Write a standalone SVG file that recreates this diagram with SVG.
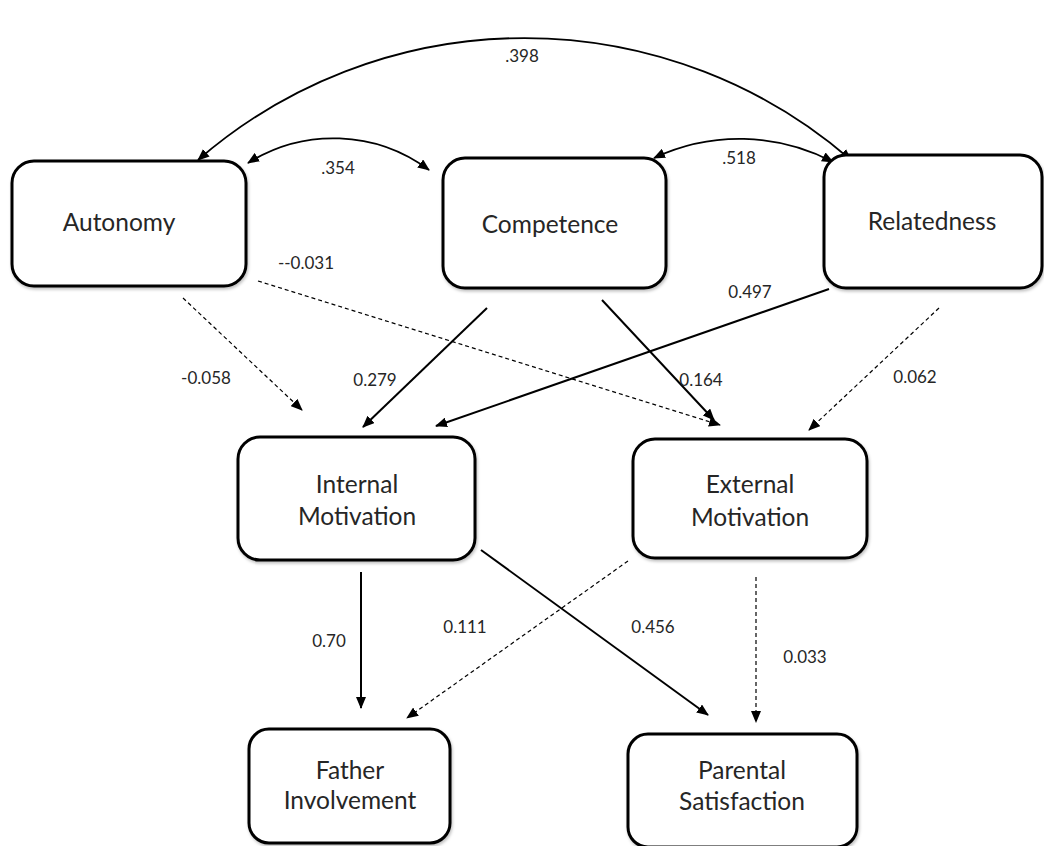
<svg xmlns="http://www.w3.org/2000/svg" width="1044" height="846" viewBox="0 0 1044 846">
  <style>
    .box { fill: #ffffff; stroke: #000000; stroke-width: 3; }
    .lbl { font-family: Lato, "Open Sans", "Liberation Sans", sans-serif; font-size: 24.5px; fill: #262626; text-anchor: middle; }
    .num { font-family: Lato, "Open Sans", "Liberation Sans", sans-serif; font-size: 17px; fill: #262626; text-anchor: middle; }
    .solid { fill: none; stroke: #000000; stroke-width: 2; }
    .dash { fill: none; stroke: #000000; stroke-width: 1.2; stroke-dasharray: 4 3; }
    .arc { fill: none; stroke: #000000; stroke-width: 1.8; }
  </style>
  <defs>
    <marker id="head" viewBox="0 0 12 10" refX="11" refY="5" markerWidth="12" markerHeight="10" markerUnits="userSpaceOnUse" orient="auto-start-reverse">
      <path d="M0,0 L12,5 L0,10 Z" fill="#000000"/>
    </marker>
    <filter id="shade" x="-10%" y="-10%" width="120%" height="130%">
      <feDropShadow dx="1" dy="2" stdDeviation="1.5" flood-color="#000000" flood-opacity="0.25"/>
    </filter>
  </defs>

  <rect width="1044" height="846" fill="#ffffff"/>

  <!-- connectors -->
  <g id="connectors">
    <!-- correlations between the three needs -->
    <path class="arc" d="M198,160 A498,498 0 0 1 851,160" marker-start="url(#head)" marker-end="url(#head)"/>
    <path class="arc" d="M248,163 A160,160 0 0 1 429,170" marker-start="url(#head)" marker-end="url(#head)"/>
    <path class="arc" d="M654,158 A201,201 0 0 1 833,162" marker-start="url(#head)" marker-end="url(#head)"/>

    <!-- needs to motivation -->
    <line class="dash" x1="183" y1="298" x2="302" y2="410" marker-end="url(#head)"/>
    <line class="dash" x1="258" y1="281" x2="720" y2="425" marker-end="url(#head)"/>
    <line class="solid" x1="487" y1="308" x2="363" y2="427" marker-end="url(#head)"/>
    <line class="solid" x1="602" y1="300" x2="714" y2="420" marker-end="url(#head)"/>
    <line class="solid" x1="829" y1="289" x2="436" y2="426" marker-end="url(#head)"/>
    <line class="dash" x1="939" y1="308" x2="809" y2="430" marker-end="url(#head)"/>

    <!-- motivation to outcomes -->
    <line class="solid" x1="361" y1="572" x2="361" y2="708" marker-end="url(#head)"/>
    <line class="dash" x1="628" y1="561" x2="407" y2="718" marker-end="url(#head)"/>
    <line class="solid" x1="481" y1="550" x2="708" y2="715" marker-end="url(#head)"/>
    <line class="dash" x1="756" y1="577" x2="756" y2="722" marker-end="url(#head)"/>

    <!-- coefficients -->
    <text class="num" x="522" y="62">.398</text>
    <text class="num" x="338" y="174">.354</text>
    <text class="num" x="739" y="164">.518</text>
    <text class="num" x="306" y="269">--0.031</text>
    <text class="num" x="206" y="384">-0.058</text>
    <text class="num" x="375" y="386">0.279</text>
    <text class="num" x="750" y="298">0.497</text>
    <text class="num" x="701" y="386">0.164</text>
    <text class="num" x="915" y="383">0.062</text>
    <text class="num" x="329" y="647">0.70</text>
    <text class="num" x="465" y="633">0.111</text>
    <text class="num" x="653" y="633">0.456</text>
    <text class="num" x="805" y="663">0.033</text>
  </g>

  <!-- nodes -->
  <g id="autonomy">
    <rect class="box" filter="url(#shade)" x="12" y="161" width="234" height="125" rx="22"/>
    <text class="lbl" x="119" y="231">Autonomy</text>
  </g>
  <g id="competence">
    <rect class="box" filter="url(#shade)" x="443" y="158" width="223" height="130" rx="22"/>
    <text class="lbl" x="550" y="233">Competence</text>
  </g>
  <g id="relatedness">
    <rect class="box" filter="url(#shade)" x="824" y="155" width="218" height="133" rx="22"/>
    <text class="lbl" x="932" y="230">Relatedness</text>
  </g>
  <g id="internal-motivation">
    <rect class="box" filter="url(#shade)" x="238" y="437" width="237" height="123" rx="22"/>
    <text class="lbl" x="357" y="493">Internal</text>
    <text class="lbl" x="357" y="525">Motivation</text>
  </g>
  <g id="external-motivation">
    <rect class="box" filter="url(#shade)" x="633" y="439" width="234" height="119" rx="22"/>
    <text class="lbl" x="750" y="493">External</text>
    <text class="lbl" x="750" y="526">Motivation</text>
  </g>
  <g id="father-involvement">
    <rect class="box" filter="url(#shade)" x="249" y="729" width="201" height="114" rx="20"/>
    <text class="lbl" x="350" y="779">Father</text>
    <text class="lbl" x="350" y="809">Involvement</text>
  </g>
  <g id="parental-satisfaction">
    <rect class="box" filter="url(#shade)" x="628" y="734" width="229" height="113" rx="20"/>
    <text class="lbl" x="742" y="779">Parental</text>
    <text class="lbl" x="742" y="810">Satisfaction</text>
  </g>
</svg>
